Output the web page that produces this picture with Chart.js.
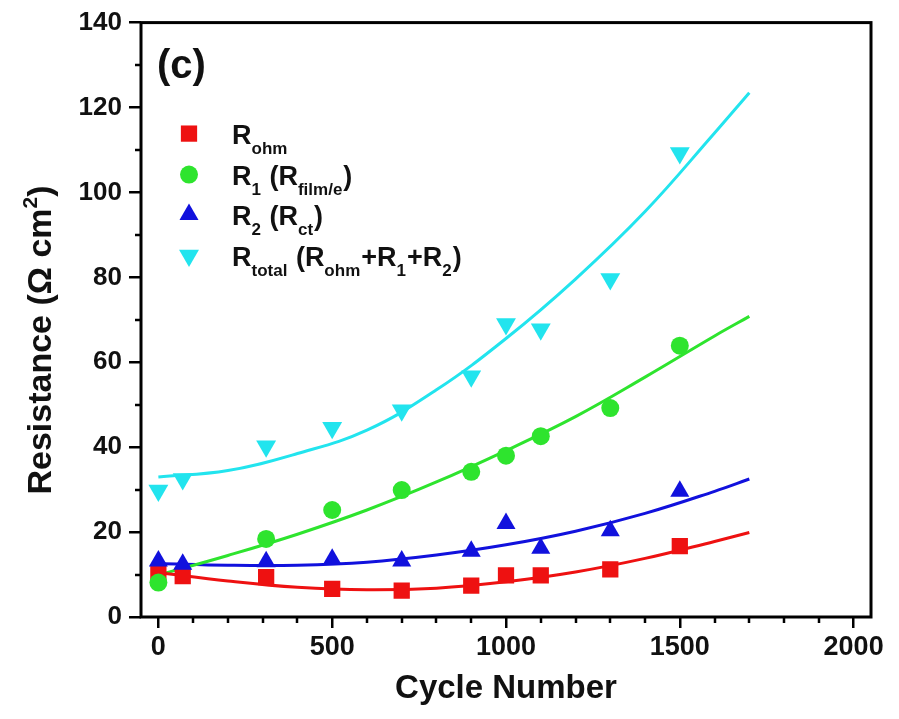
<!DOCTYPE html>
<html>
<head>
<meta charset="utf-8">
<script src="https://cdn.jsdelivr.net/npm/chart.js@4/dist/chart.umd.min.js"></script>
<style>
  html, body { margin: 0; padding: 0; background: #ffffff; }
  #wrap { width: 899px; height: 719px; }
</style>
</head>
<body>
<div id="wrap"><canvas id="chart" width="899" height="719"></canvas></div>
<script>
// Measured resistances vs. cycle number
const cycles = [0, 70, 310, 500, 700, 900, 1000, 1100, 1300, 1500];
const rOhm   = [10.2, 9.6, 9.4, 6.6, 6.2, 7.4, 9.8, 9.8, 11.2, 16.7];
const r1     = [8.1, null, 18.4, 25.2, 29.9, 34.2, 38.0, 42.6, 49.2, 63.9];
const r2     = [13.2, 12.4, 13.0, 13.6, 13.2, 15.5, 22.0, 16.2, 20.3, 29.6];
const rTotal = [29.8, 32.5, 40.2, 44.6, 48.7, 56.7, 69.0, 67.8, 79.6, 109.3];

// Fitted trend curves
const fitCycles = [0, 200, 400, 600, 800, 1000, 1200, 1400, 1600, 1700];
const fitOhm    = [10.5, 8.5, 7.0, 6.4, 6.8, 8.3, 10.6, 13.8, 17.8, 19.9];
const fitR1     = [9.9, 14.5, 19.5, 25.2, 31.8, 39.2, 47.2, 56.5, 66.2, 70.8];
const fitR2     = [12.6, 12.2, 12.2, 12.9, 14.6, 17.0, 20.2, 24.4, 29.6, 32.5];
const fitTotal  = [33.0, 34.5, 38.5, 44.0, 53.5, 65.6, 79.6, 95.5, 114.0, 123.5];

// Axis ticks
const xMajorTicks = [0, 500, 1000, 1500, 2000];
const xMinorTicks = [100, 200, 300, 400, 600, 700, 800, 900, 1100, 1200, 1300, 1400, 1600, 1700, 1800, 1900];
const yMajorTicks = [0, 20, 40, 60, 80, 100, 120, 140];
const yMinorTicks = [10, 30, 50, 70, 90, 110, 130];

// Legend text, split into normal and subscript runs
const seriesLabels = [
  [['R'], ['ohm', 'sub']],
  [['R'], ['1', 'sub'], [' (R'], ['film/e', 'sub'], [')']],
  [['R'], ['2', 'sub'], [' (R'], ['ct', 'sub'], [')']],
  [['R'], ['total', 'sub'], [' (R'], ['ohm', 'sub'], ['+R'], ['1', 'sub'], ['+R'], ['2', 'sub'], [')']]
];

const FONT = "'Liberation Sans', Arial, sans-serif";
const colors = ['#ee1111', '#2ee42e', '#1111dd', '#22e4ee'];
const markers = [
  { pointStyle: 'rect', radius: 11.5, rotation: 0 },
  { pointStyle: 'circle', radius: 9, rotation: 0 },
  { pointStyle: 'triangle', radius: 11, rotation: 0 },
  { pointStyle: 'triangle', radius: 11.5, rotation: 180 }
];
const seriesValues = [rOhm, r1, r2, rTotal];
const fitValues = [fitOhm, fitR1, fitR2, fitTotal];

function pairs(xs, ys) {
  const out = [];
  xs.forEach((x, i) => { if (ys[i] !== null) out.push({ x: x, y: ys[i] }); });
  return out;
}

const datasets = [];
seriesValues.forEach((vals, i) => {
  datasets.push({
    data: pairs(cycles, vals),
    showLine: false,
    pointStyle: markers[i].pointStyle,
    pointRadius: markers[i].radius,
    pointRotation: markers[i].rotation,
    pointBackgroundColor: colors[i],
    pointBorderColor: colors[i],
    pointBorderWidth: 0,
    order: 3 - i
  });
});
fitValues.forEach((vals, i) => {
  datasets.push({
    data: pairs(fitCycles, vals),
    showLine: true,
    borderColor: colors[i],
    borderWidth: 3,
    pointRadius: 0,
    tension: 0.4,
    fill: false,
    order: 10 + i
  });
});

function drawMarker(ctx, style, x, y, color) {
  ctx.save();
  ctx.fillStyle = color;
  ctx.beginPath();
  const r = style.radius;
  if (style.pointStyle === 'rect') {
    const s = r * Math.SQRT1_2;
    ctx.rect(x - s, y - s, 2 * s, 2 * s);
  } else if (style.pointStyle === 'circle') {
    ctx.arc(x, y, r, 0, Math.PI * 2);
  } else {
    let a = style.rotation * Math.PI / 180;
    ctx.moveTo(x + Math.sin(a) * r, y - Math.cos(a) * r);
    a += 2 * Math.PI / 3;
    ctx.lineTo(x + Math.sin(a) * r, y - Math.cos(a) * r);
    a += 2 * Math.PI / 3;
    ctx.lineTo(x + Math.sin(a) * r, y - Math.cos(a) * r);
    ctx.closePath();
  }
  ctx.fill();
  ctx.restore();
}

const decorations = {
  id: 'decorations',
  afterDraw(chart) {
    const ctx = chart.ctx;
    const area = chart.chartArea;
    const xs = chart.scales.x;
    const ys = chart.scales.y;
    ctx.save();

    // frame
    ctx.strokeStyle = '#000';
    ctx.lineWidth = 3;
    ctx.strokeRect(area.left, area.top, area.right - area.left, area.bottom - area.top);

    // minor ticks
    ctx.lineWidth = 2.5;
    ctx.beginPath();
    xMinorTicks.forEach(v => {
      const px = Math.round(xs.getPixelForValue(v));
      ctx.moveTo(px, area.bottom);
      ctx.lineTo(px, area.bottom + 6);
    });
    yMinorTicks.forEach(v => {
      const py = Math.round(ys.getPixelForValue(v));
      ctx.moveTo(area.left, py);
      ctx.lineTo(area.left - 6, py);
    });
    ctx.stroke();

    // panel tag
    ctx.fillStyle = '#111';
    ctx.font = 'bold 40px ' + FONT;
    ctx.textBaseline = 'alphabetic';
    ctx.textAlign = 'left';
    ctx.fillText('(c)', area.left + 16, area.top + 55);

    // y-axis title with superscript
    ctx.save();
    ctx.translate(39, 340);
    ctx.rotate(-Math.PI / 2);
    const mainF = 'bold 34px ' + FONT;
    const supF = 'bold 21px ' + FONT;
    const parts = [['Resistance (\u03A9 cm', mainF, 0], ['2', supF, -14], [')', mainF, 0]];
    let total = 0;
    parts.forEach(p => { ctx.font = p[1]; total += ctx.measureText(p[0]).width; });
    let cx = -total / 2;
    parts.forEach(p => {
      ctx.font = p[1];
      ctx.fillText(p[0], cx, 12 + p[2]);
      cx += ctx.measureText(p[0]).width;
    });
    ctx.restore();

    // legend
    const mx = area.left + 48;
    const tx = area.left + 91;
    const rowY = [111, 152, 192, 233];
    seriesLabels.forEach((runs, i) => {
      const y = area.top + rowY[i];
      drawMarker(ctx, markers[i], mx, y, colors[i]);
      let x = tx;
      runs.forEach(run => {
        const sub = run[1] === 'sub';
        ctx.font = sub ? 'bold 17px ' + FONT : 'bold 27px ' + FONT;
        ctx.fillStyle = '#111';
        ctx.fillText(run[0], x, y + 10 + (sub ? 10 : 0));
        x += ctx.measureText(run[0]).width + (sub ? 1 : 0);
      });
    });
    ctx.restore();
  }
};

new Chart(document.getElementById('chart'), {
  type: 'scatter',
  data: { datasets: datasets },
  plugins: [decorations],
  options: {
    responsive: false,
    animation: false,
    devicePixelRatio: 1,
    layout: { padding: { left: 0, right: 28, top: 22, bottom: 0 } },
    plugins: { legend: { display: false }, tooltip: { enabled: false } },
    scales: {
      x: {
        type: 'linear',
        min: -50,
        max: 2050,
        afterFit(scale) { scale.height = 102; },
        afterBuildTicks(scale) { scale.ticks = xMajorTicks.map(v => ({ value: v })); },
        border: { display: false },
        grid: { display: true, drawOnChartArea: false, drawTicks: true, tickLength: 11, lineWidth: 2.5, color: '#000' },
        ticks: { color: '#111', font: { family: FONT, size: 27, weight: 'bold' }, padding: 3, maxRotation: 0, autoSkip: false, callback: v => String(v) },
        title: { display: true, text: 'Cycle Number', color: '#111', font: { family: FONT, size: 33, weight: 'bold' }, padding: { top: 0, bottom: 10 } }
      },
      y: {
        type: 'linear',
        min: 0,
        max: 140,
        afterFit(scale) { scale.width = 141; },
        afterBuildTicks(scale) { scale.ticks = yMajorTicks.map(v => ({ value: v })); },
        border: { display: false },
        grid: { display: true, drawOnChartArea: false, drawTicks: true, tickLength: 12, lineWidth: 2.5, color: '#000' },
        ticks: { color: '#111', font: { family: FONT, size: 26, weight: 'bold' }, padding: 7, autoSkip: false, callback: v => String(v) },
        title: { display: false }
      }
    }
  }
});
</script>
</body>
</html>
